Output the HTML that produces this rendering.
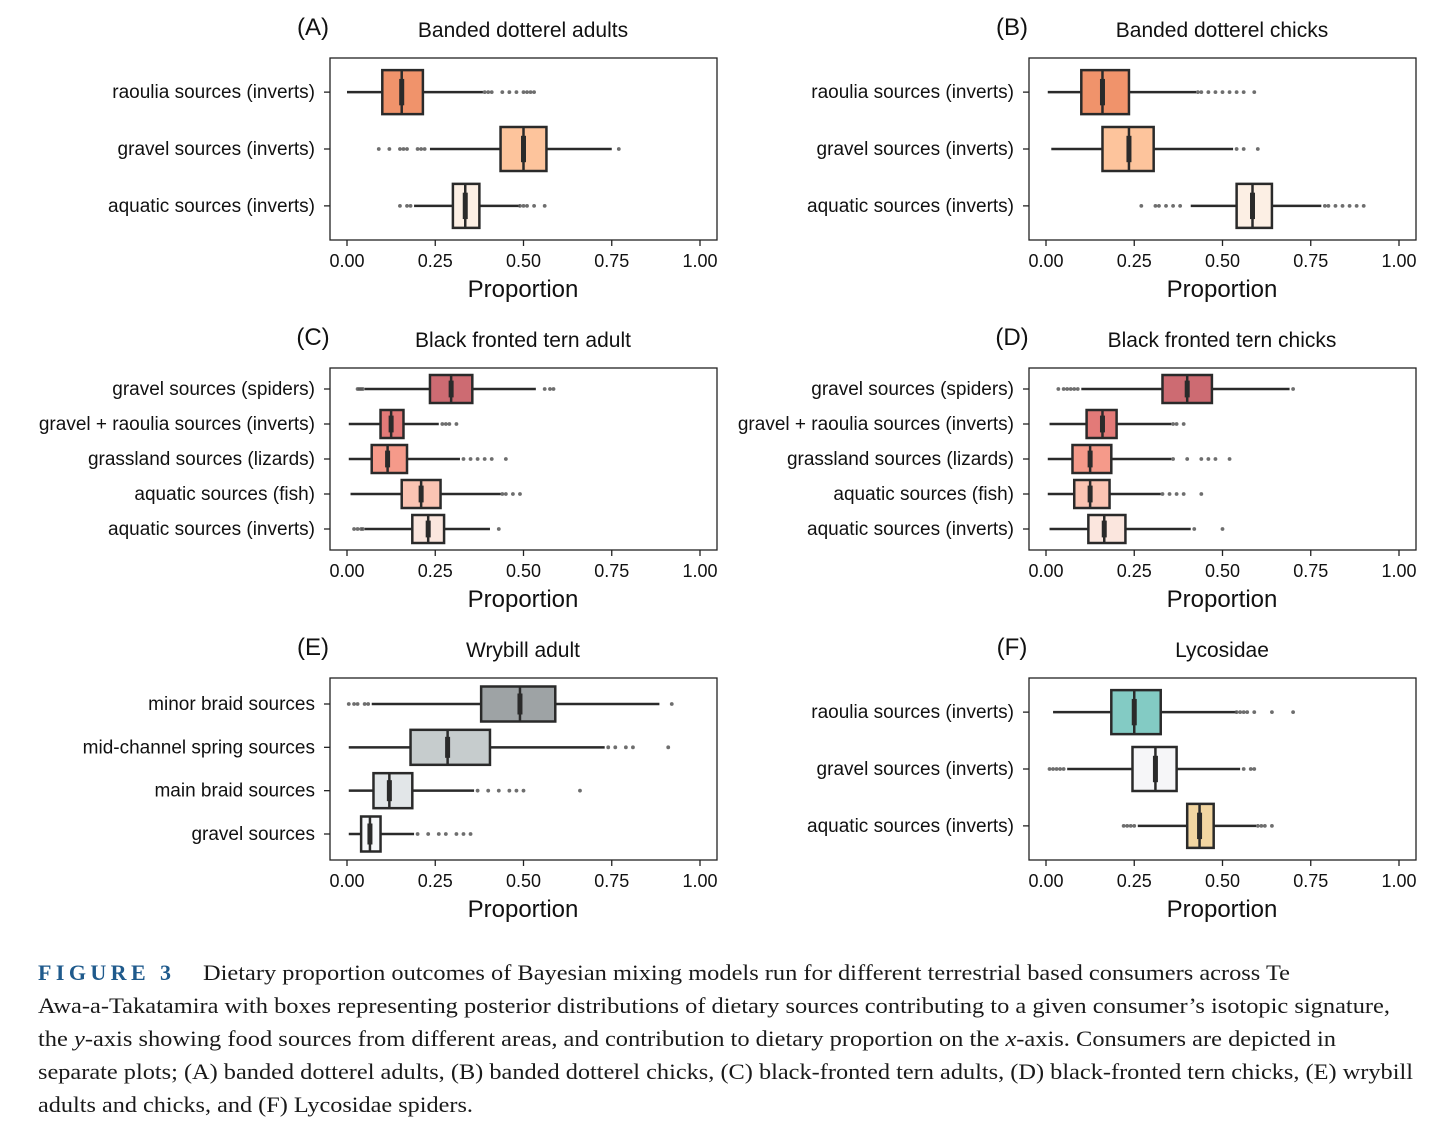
<!DOCTYPE html>
<html><head><meta charset="utf-8"><style>
body{margin:0;background:#fff;width:1456px;height:1134px;overflow:hidden}
svg{display:block}
text{font-family:"Liberation Sans",sans-serif;fill:#111}
.cap{font-family:"Liberation Serif",serif;font-size:22px;fill:#1a1a1a}
.fig3{font-family:"Liberation Serif",serif;font-size:22px;font-weight:bold;fill:#1f5a8c;letter-spacing:4px}
</style></head><body>
<svg id="fig" width="1456" height="1134" viewBox="0 0 1456 1134"></svg>
<script>
const ticks=[0,0.25,0.5,0.75,1];
const tickLabels=["0.00","0.25","0.50","0.75","1.00"];
const titles=["Banded dotterel adults","Banded dotterel chicks","Black fronted tern adult","Black fronted tern chicks","Wrybill adult","Lycosidae"];
const letters=["(A)","(B)","(C)","(D)","(E)","(F)"];
const catsA=["raoulia sources (inverts)","gravel sources (inverts)","aquatic sources (inverts)"];
const catsC=["gravel sources (spiders)","gravel + raoulia sources (inverts)","grassland sources (lizards)","aquatic sources (fish)","aquatic sources (inverts)"];
const catsE=["minor braid sources","mid-channel spring sources","main braid sources","gravel sources"];
// [whiskerLow,q1,median,q3,whiskerHigh]
const statsA=[[0.0,0.10,0.155,0.215,0.385],[0.235,0.435,0.50,0.565,0.75],[0.19,0.30,0.335,0.375,0.49]];
const outA=[[0.39,0.40,0.41,0.44,0.46,0.48,0.50,0.51,0.52,0.53],[0.09,0.12,0.15,0.16,0.17,0.2,0.21,0.22,0.77],[0.15,0.17,0.18,0.49,0.50,0.51,0.53,0.56]];
const statsB=[[0.005,0.10,0.16,0.235,0.425],[0.015,0.16,0.235,0.305,0.53],[0.41,0.54,0.585,0.64,0.78]];
const outB=[[0.43,0.44,0.46,0.48,0.5,0.52,0.54,0.56,0.59],[0.54,0.56,0.6],[0.27,0.31,0.32,0.34,0.36,0.38,0.79,0.8,0.82,0.84,0.86,0.88,0.9]];
const statsC=[[0.05,0.235,0.295,0.355,0.535],[0.005,0.095,0.125,0.16,0.26],[0.005,0.07,0.115,0.17,0.32],[0.01,0.155,0.21,0.265,0.435],[0.05,0.185,0.23,0.275,0.405]];
const outC=[[0.03,0.035,0.04,0.045,0.56,0.575,0.585],[0.27,0.28,0.29,0.31],[0.33,0.35,0.37,0.39,0.41,0.45],[0.44,0.45,0.47,0.49],[0.02,0.03,0.04,0.045,0.43]];
const statsD=[[0.1,0.33,0.40,0.47,0.69],[0.01,0.115,0.16,0.2,0.355],[0.005,0.075,0.125,0.185,0.355],[0.005,0.08,0.125,0.18,0.325],[0.01,0.12,0.165,0.225,0.41]];
const outD=[[0.035,0.05,0.06,0.07,0.08,0.09,0.70],[0.36,0.37,0.39],[0.36,0.4,0.44,0.46,0.48,0.52],[0.33,0.35,0.37,0.39,0.44],[0.42,0.5]];
const statsE=[[0.07,0.38,0.49,0.59,0.885],[0.005,0.18,0.285,0.405,0.73],[0.005,0.075,0.12,0.185,0.36],[0.005,0.04,0.065,0.095,0.19]];
const outE=[[0.005,0.02,0.03,0.05,0.06,0.92],[0.74,0.76,0.79,0.81,0.91],[0.37,0.4,0.43,0.46,0.48,0.5,0.66],[0.2,0.23,0.26,0.28,0.31,0.33,0.35]];
const statsF=[[0.02,0.185,0.25,0.325,0.54],[0.06,0.245,0.31,0.37,0.55],[0.26,0.40,0.435,0.475,0.595]];
const outF=[[0.54,0.55,0.56,0.57,0.59,0.64,0.7],[0.01,0.02,0.03,0.04,0.05,0.56,0.58,0.59],[0.22,0.23,0.24,0.25,0.6,0.61,0.62,0.64]];
const colsA=["#f0936b","#fdc49c","#fcefe4"];
const colsC=["#cd6b72","#e37a78","#f59a8a","#fbc4b3","#fbe6de"];
const colsE=["#9ea3a5","#c6cccd","#e2e6e8","#f7f8fa"];
const colsF=["#83cbc4","#f6f6f8","#f2d6a2"];

const NS="http://www.w3.org/2000/svg";
const svg=document.getElementById('fig');
function mk(tag,attrs,parent,txt){const e=document.createElementNS(NS,tag);for(const k in attrs)e.setAttribute(k,attrs[k]);if(txt!==undefined)e.textContent=txt;parent.appendChild(e);return e;}

const panels=[
 {cats:catsA,stats:statsA,outs:outA,cols:colsA,x:330,y:58,bh:44},
 {cats:catsA,stats:statsB,outs:outB,cols:colsA,x:1029,y:58,bh:44},
 {cats:catsC,stats:statsC,outs:outC,cols:colsC,x:330,y:368,bh:28},
 {cats:catsC,stats:statsD,outs:outD,cols:colsC,x:1029,y:368,bh:28},
 {cats:catsE,stats:statsE,outs:outE,cols:colsE,x:330,y:678,bh:35},
 {cats:catsA,stats:statsF,outs:outF,cols:colsF,x:1029,y:678,bh:44}
];
const W=387,H=182;
panels.forEach((p,pi)=>{
  const g=mk('g',{},svg);
  
  
  const x0=p.x+17,x1=p.x+370;
  const sx=v=>x0+v*(x1-x0);
  const n=p.cats.length,step=H/(n-1+1.2);
  const sy=i=>p.y+step*(0.6+i);
  const fr=mk('rect',{x:p.x,y:p.y,width:W,height:H,fill:'#fff',stroke:'#222','stroke-width':1.3},g);
  
  const t=mk('text',{x:p.x+193,y:p.y-21,'text-anchor':'middle','font-size':21},g,titles[pi]);
  
  const l=mk('text',{x:p.x-17,y:p.y-23,'text-anchor':'middle','font-size':24},g,letters[pi]);
  
  ticks.forEach((tv,ti)=>{
    mk('line',{x1:sx(tv),x2:sx(tv),y1:p.y+H,y2:p.y+H+6,stroke:'#222','stroke-width':1.3},g);
    const tl=mk('text',{x:sx(tv),y:p.y+H+27,'text-anchor':'middle','font-size':18,fill:'#222'},g,tickLabels[ti]);
    
  });
  const xt=mk('text',{x:p.x+193,y:p.y+H+57,'text-anchor':'middle','font-size':24},g,'Proportion');
  
  p.cats.forEach((c,i)=>{
    const y=sy(i),s=p.stats[i],bh=p.bh;
    mk('line',{x1:p.x-6,x2:p.x,y1:y,y2:y,stroke:'#222','stroke-width':1.3},g);
    const cl=mk('text',{x:p.x-15,y:y+6,'text-anchor':'end','font-size':19,fill:'#222'},g,c);
    
    const bx=mk('g',{},g);
    
    mk('line',{x1:sx(s[0]),x2:sx(s[1]),y1:y,y2:y,stroke:'#2a2a2a','stroke-width':2.5},bx);
    mk('line',{x1:sx(s[3]),x2:sx(s[4]),y1:y,y2:y,stroke:'#2a2a2a','stroke-width':2.5},bx);
    p.outs[i].forEach(o=>{mk('circle',{cx:sx(o),cy:y,r:1.9,fill:'#555','fill-opacity':0.85},bx);});
    mk('rect',{x:sx(s[1]),y:y-bh/2,width:sx(s[3])-sx(s[1]),height:bh,fill:p.cols[i],stroke:'#2a2a2a','stroke-width':2.5},bx);
    mk('line',{x1:sx(s[2]),x2:sx(s[2]),y1:y-bh/2,y2:y+bh/2,stroke:'#2a2a2a','stroke-width':2.5},bx);
    mk('line',{x1:sx(s[2]),x2:sx(s[2]),y1:y-bh*0.3,y2:y+bh*0.3,stroke:'#2a2a2a','stroke-width':5},bx);
  });
});
// caption
const cap=mk('g',{},svg);

mk('text',{x:38,y:980,class:'fig3',textLength:137,lengthAdjust:'spacing'},cap,'FIGURE 3');
const lines=[
 [203,980,1087,"Dietary proportion outcomes of Bayesian mixing models run for different terrestrial based consumers across Te"],
 [38,1013,1352,"Awa-a-Takatamira with boxes representing posterior distributions of dietary sources contributing to a given consumer\u2019s isotopic signature,"],
 [38,1046,1298,null],
 [38,1079,1375,"separate plots; (A) banded dotterel adults, (B) banded dotterel chicks, (C) black-fronted tern adults, (D) black-fronted tern chicks, (E) wrybill"],
 [38,1112,435,"adults and chicks, and (F) Lycosidae spiders."]
];
lines.forEach(L=>{
  const t=mk('text',{x:L[0],y:L[1],class:'cap',textLength:L[2],lengthAdjust:'spacingAndGlyphs'},cap);
  if(L[3]!==null){t.textContent=L[3];}
  else{
    t.appendChild(document.createTextNode('the '));
    mk('tspan',{'font-style':'italic'},t,'y');
    t.appendChild(document.createTextNode('-axis showing food sources from different areas, and contribution to dietary proportion on the '));
    mk('tspan',{'font-style':'italic'},t,'x');
    t.appendChild(document.createTextNode('-axis. Consumers are depicted in'));
  }
});
</script>
</body></html>
